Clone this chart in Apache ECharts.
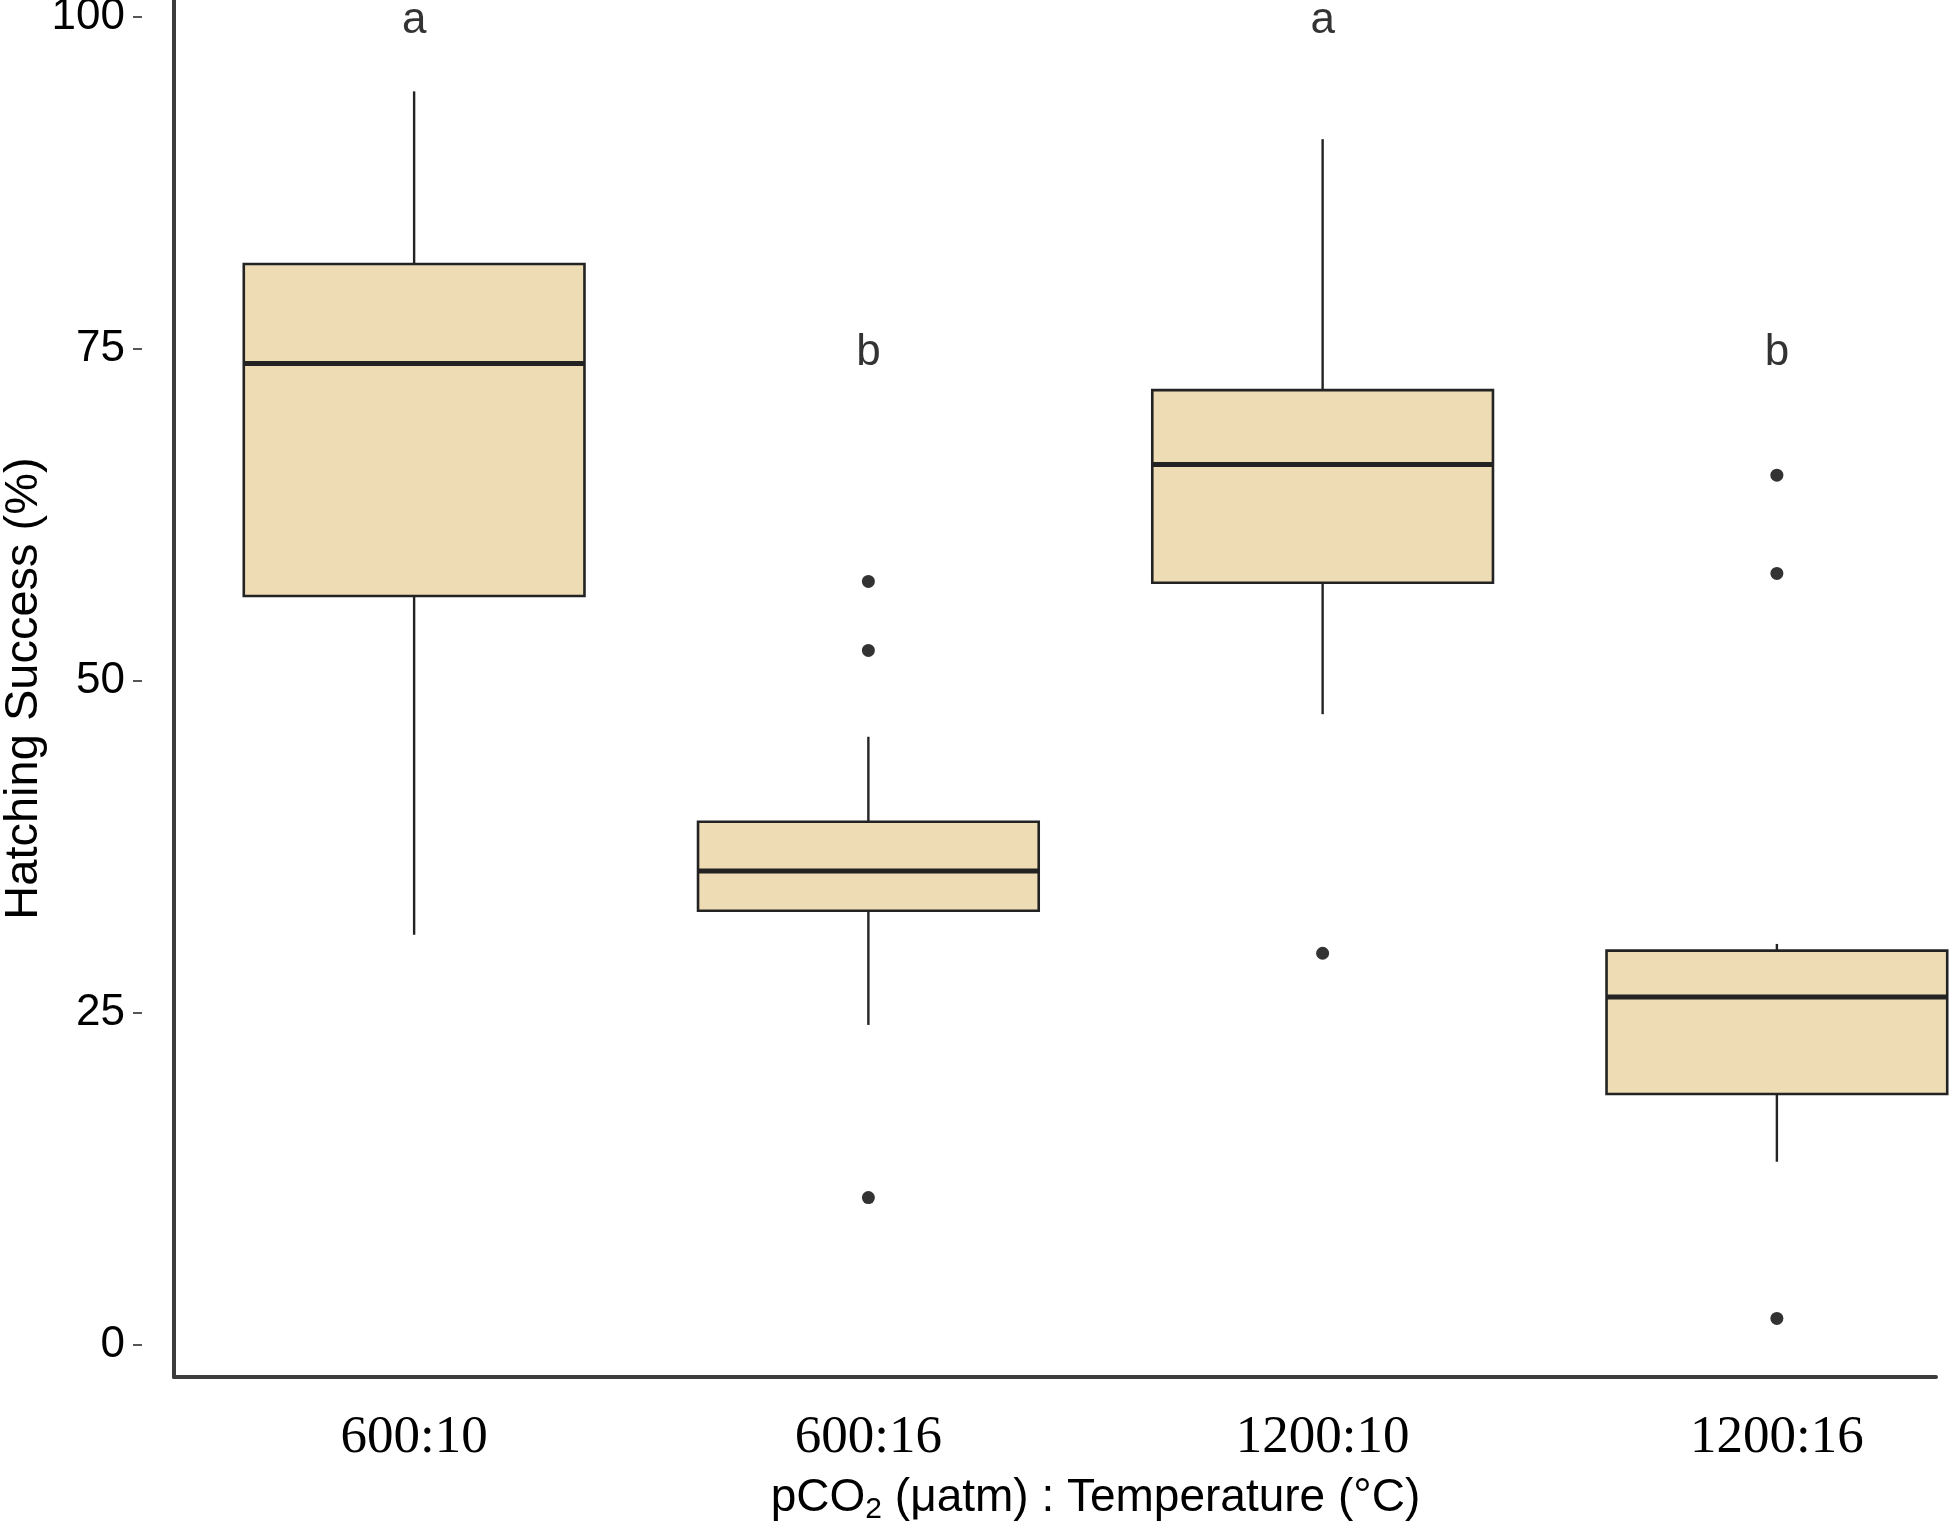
<!DOCTYPE html>
<html>
<head>
<meta charset="utf-8">
<title>Hatching success</title>
<script src="https://cdn.jsdelivr.net/npm/echarts@6/dist/echarts.min.js"></script>
<style>
  html, body { margin: 0; padding: 0; background: #fff; }
  #main { width: 1950px; height: 1526px; }
</style>
</head>
<body>
<div id="main"></div>
<script>
// pCO2 : temperature groups
var categories = ['600:10', '600:16', '1200:10', '1200:16'];

// box statistics (%)
var whiskerLow  = [30.9, 24.1, 47.5, 13.8];
var lowerQ      = [56.4, 32.7, 57.4, 18.9];
var medians     = [73.9, 35.7, 66.3, 26.2];
var upperQ      = [81.4, 39.4, 71.9, 29.7];
var whiskerHigh = [94.4, 45.8, 90.8, 30.2];

// outlying points per group
var outliers = [[], [57.5, 52.3, 11.1], [29.5], [65.5, 58.1, 2.0]];

// significance letters and the height they sit at
var sigLetters = ['a', 'b', 'a', 'b'];
var sigHeights = [100, 75, 100, 75];

// y ticks: 0..100 every 25
var tickMin = 0, tickMax = 100, tickStep = 25;
var yMin = -2.41, yMax = 101.28;

var sans = 'Liberation Sans, Arial, sans-serif';
var serif = 'Liberation Serif, Times New Roman, serif';

var boxRows = categories.map(function (c, i) {
    return [i, whiskerLow[i], lowerQ[i], medians[i], upperQ[i], whiskerHigh[i]];
});
var outlierPts = [];
outliers.forEach(function (vals, i) {
    vals.forEach(function (v) { outlierPts.push([i, v]); });
});
var letterPts = sigLetters.map(function (t, i) {
    return { name: t, value: [i, sigHeights[i]] };
});

function renderBox(params, api) {
    var i = api.value(0);
    var pLow = api.coord([i, api.value(1)]);
    var pQ1 = api.coord([i, api.value(2)]);
    var pMed = api.coord([i, api.value(3)]);
    var pQ3 = api.coord([i, api.value(4)]);
    var pHigh = api.coord([i, api.value(5)]);
    var half = api.size([1, 0])[0] * 0.375;
    var x = pMed[0];
    var ink = '#232323';
    return {
        type: 'group',
        children: [
            { type: 'line', shape: { x1: x, y1: pHigh[1], x2: x, y2: pQ3[1] }, style: { stroke: ink, lineWidth: 2.4 } },
            { type: 'line', shape: { x1: x, y1: pQ1[1], x2: x, y2: pLow[1] }, style: { stroke: ink, lineWidth: 2.4 } },
            { type: 'rect', shape: { x: x - half, y: pQ3[1], width: half * 2, height: pQ1[1] - pQ3[1] },
              style: { fill: '#EEDCB4', stroke: ink, lineWidth: 2.6 } },
            { type: 'line', shape: { x1: x - half, y1: pMed[1], x2: x + half, y2: pMed[1] }, style: { stroke: ink, lineWidth: 5 } }
        ]
    };
}

// plot area: y from yMin (bottom, 1377px) to yMax (top, 0px)
var plotH = 1377;
var pxPerUnit = plotH / (yMax - yMin);
var tickTop = (yMax - tickMax) * pxPerUnit;
var tickH = (tickMax - tickMin) * pxPerUnit;

var chart = echarts.init(document.getElementById('main'));
var option = {
    backgroundColor: '#fff',
    animation: false,
    grid: [
        // frame grid: axis lines
        { left: 174, top: 0, width: 1762, height: plotH, outerBoundsMode: 'none' },
        // data grid: boxes sit on this one
        { left: 187, top: 0, width: 1817, height: plotH, outerBoundsMode: 'none' },
        // tick grid: spans exactly 0..100
        { left: 174, top: tickTop, width: 1762, height: tickH, outerBoundsMode: 'none' }
    ],
    xAxis: [
        {
            type: 'category', gridIndex: 0, data: categories,
            axisLine: { show: true, onZero: false, lineStyle: { color: '#3c3c3c', width: 4 } },
            axisTick: { show: false }, axisLabel: { show: false }, splitLine: { show: false }
        },
        {
            type: 'category', gridIndex: 1, data: categories,
            axisLine: { show: false }, axisTick: { show: false }, splitLine: { show: false },
            axisLabel: { fontFamily: serif, fontSize: 53, color: '#000', margin: 35 },
            name: 'pCO{sub|2} (μatm) : Temperature (°C)',
            nameLocation: 'middle', nameGap: 94,
            nameTextStyle: {
                fontFamily: sans, fontSize: 46, color: '#000', lineHeight: 54,
                rich: { sub: { fontFamily: sans, fontSize: 30, lineHeight: 30, verticalAlign: 'bottom', color: '#000' } }
            }
        },
        {
            type: 'category', gridIndex: 2, data: categories, show: false
        }
    ],
    yAxis: [
        {
            type: 'value', gridIndex: 0, min: yMin, max: yMax,
            axisLine: { show: true, onZero: false, lineStyle: { color: '#3c3c3c', width: 4 } },
            axisTick: { show: false }, axisLabel: { show: false }, splitLine: { show: false },
            name: 'Hatching Success (%)', nameLocation: 'middle', nameGap: 126,
            nameTextStyle: { fontFamily: sans, fontSize: 47, color: '#000' }
        },
        {
            type: 'value', gridIndex: 1, min: yMin, max: yMax, show: false
        },
        {
            type: 'value', gridIndex: 2, min: tickMin, max: tickMax, interval: tickStep, offset: 32,
            axisLine: { show: false }, splitLine: { show: false },
            axisTick: { show: true, length: 9, lineStyle: { color: '#555', width: 2 } },
            axisLabel: { fontFamily: sans, fontSize: 44, color: '#000', margin: 17 }
        }
    ],
    series: [
        {
            type: 'custom', name: 'box', xAxisIndex: 1, yAxisIndex: 1,
            renderItem: renderBox, data: boxRows,
            encode: { x: 0, y: [1, 2, 3, 4, 5] }, z: 2
        },
        {
            type: 'scatter', name: 'outliers', xAxisIndex: 1, yAxisIndex: 1,
            data: outlierPts, symbol: 'circle', symbolSize: 13,
            itemStyle: { color: '#333', opacity: 1 }, z: 3
        },
        {
            type: 'scatter', name: 'letters', xAxisIndex: 1, yAxisIndex: 1,
            data: letterPts, symbolSize: 0, silent: true,
            label: {
                show: true, position: 'inside', formatter: '{b}', offset: [0, 4],
                fontFamily: sans, fontSize: 44, color: '#000'
            }, z: 4
        }
    ]
};
chart.setOption(option);
</script>
</body>
</html>
